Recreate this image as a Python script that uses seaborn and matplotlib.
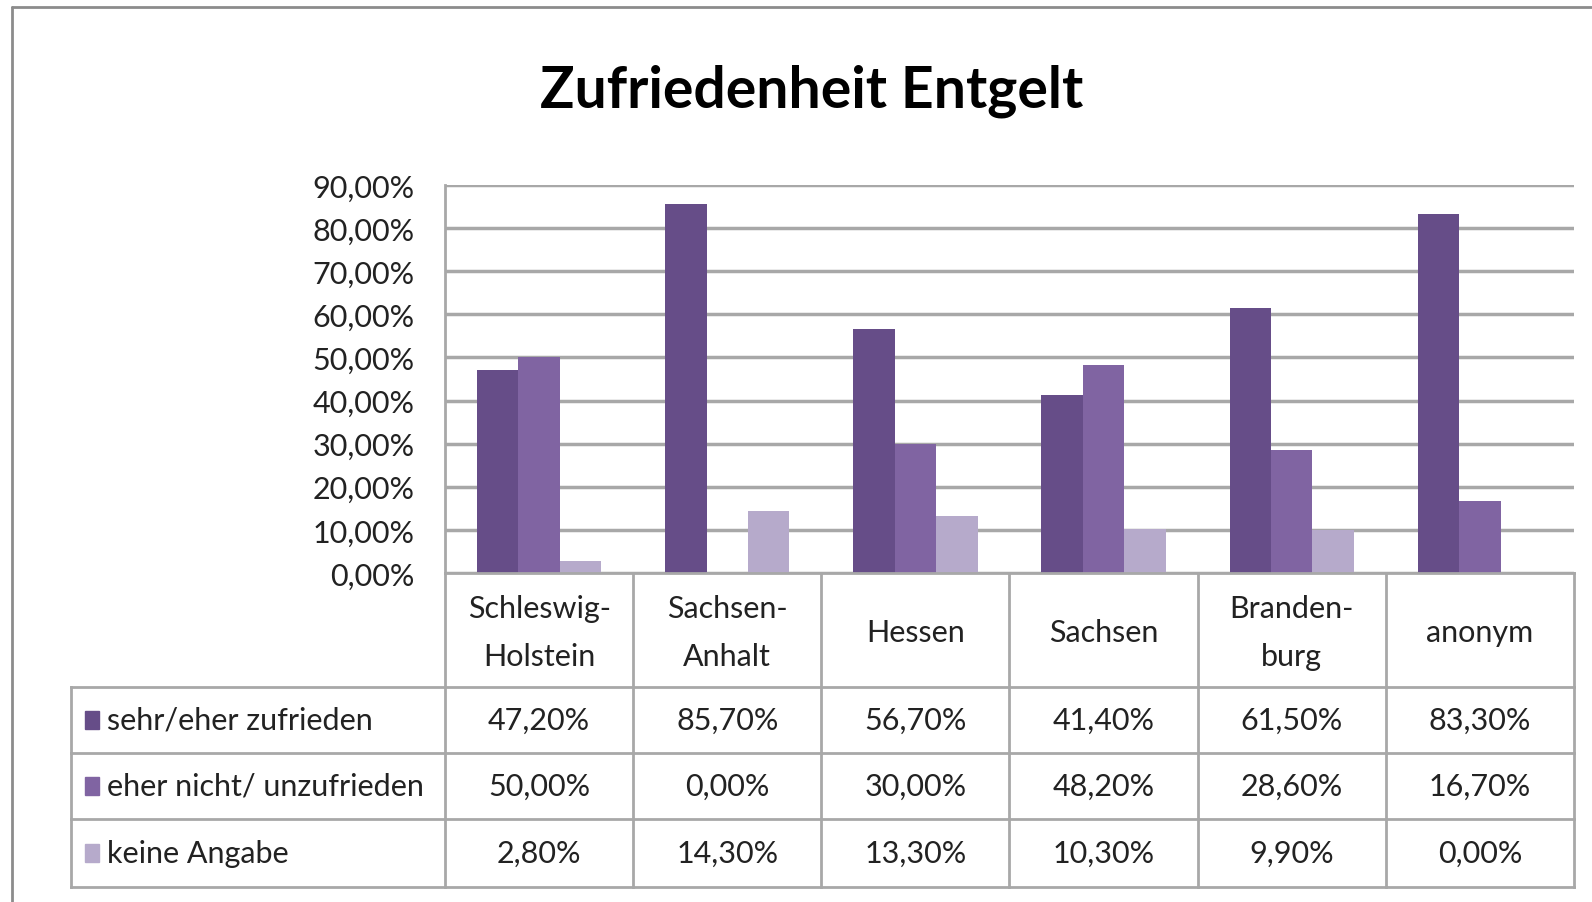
import pandas as pd
import matplotlib
matplotlib.use("Agg")
import matplotlib.pyplot as plt
import seaborn as sns
from matplotlib.lines import Line2D
from matplotlib.patches import Rectangle

# --- data ---
regions = ["Schleswig-\nHolstein", "Sachsen-\nAnhalt", "Hessen", "Sachsen", "Branden-\nburg", "anonym"]
series = ["sehr/eher zufrieden", "eher nicht/ unzufrieden", "keine Angabe"]
zufrieden = [0.472, 0.857, 0.567, 0.414, 0.615, 0.833]
unzufrieden = [0.500, 0.000, 0.300, 0.482, 0.286, 0.167]
keine_angabe = [0.028, 0.143, 0.133, 0.103, 0.099, 0.000]
y_ticks = [0.0, 0.1, 0.2, 0.3, 0.4, 0.5, 0.6, 0.7, 0.8, 0.9]
colors = ["#664D88", "#8064A2", "#B6AACB"]

values = [zufrieden, unzufrieden, keine_angabe]
df = pd.DataFrame({
    "region": regions * 3,
    "series": [s for s in series for _ in regions],
    "value": [v for vals in values for v in vals],
})

# --- fonts (Calibri look-alike) ---
sns.set_theme(style="white")
plt.rcParams["font.family"] = ["Lato", "DejaVu Sans"]
TXT = "#222222"
GRID = "#A8A8A8"
fs = 22

def fmt(v):
    return f"{v * 100:.2f}%".replace(".", ",")

W, H = 1592, 903
fig = plt.figure(figsize=(W / 100, H / 100), dpi=100)

# pixel layout
x0, x1 = 445, 1574
y_top, y_zero = 186, 574
row_lines = [574, 688, 754, 820, 888]
leg_left = 71

ax = fig.add_axes([x0 / W, 1 - y_zero / H, (x1 - x0) / W, (y_zero - y_top) / H])
sns.barplot(data=df, x="region", y="value", hue="series", palette=colors,
            width=0.66, saturation=1, ax=ax, legend=False, edgecolor="none")
ax.set_ylim(0, 0.9)
ax.set_xlim(-0.5, len(regions) - 0.5)
ax.set_yticks(y_ticks)
ax.set_yticklabels([fmt(t) for t in y_ticks], fontsize=fs, color=TXT)
ax.tick_params(axis="y", length=0, pad=22)
ax.set_xticks([])
ax.set_xlabel("")
ax.set_ylabel("")
ax.grid(axis="y", color=GRID, linewidth=2.5, zorder=0)
ax.set_axisbelow(True)
for s in ["top", "right", "bottom"]:
    ax.spines[s].set_visible(False)
ax.spines["left"].set_color(GRID)
ax.spines["left"].set_linewidth(2)

# --- data table below the bars ---
tax = fig.add_axes([x0 / W, 1 - row_lines[-1] / H, (x1 - x0) / W, (row_lines[-1] - row_lines[0]) / H])
tax.set_xlim(-0.5, len(regions) - 0.5)
tax.set_ylim(row_lines[-1], row_lines[0])
tax.axis("off")
px_per_cat = (x1 - x0) / len(regions)
left_edge = -0.5 - (x0 - leg_left) / px_per_cat

lk = dict(color=GRID, linewidth=2, clip_on=False, solid_capstyle="projecting")
for i, yl in enumerate(row_lines):
    xs = -0.5 if i == 0 else left_edge
    tax.add_line(Line2D([xs, len(regions) - 0.5], [yl, yl], **lk))
for b in range(len(regions) + 1):
    tax.add_line(Line2D([b - 0.5, b - 0.5], [row_lines[0], row_lines[-1]], **lk))
tax.add_line(Line2D([left_edge, left_edge], [row_lines[1], row_lines[-1]], **lk))

hdr_mid = (row_lines[0] + row_lines[1]) / 2
for i, r in enumerate(regions):
    tax.text(i, hdr_mid + 2, r, ha="center", va="center", fontsize=fs, color=TXT,
             linespacing=1.85)

sq_w = 14 / px_per_cat
for j, (name, vals) in enumerate(zip(series, values)):
    ym = (row_lines[j + 1] + row_lines[j + 2]) / 2
    tax.add_patch(Rectangle((left_edge + 14 / px_per_cat, ym - 9), sq_w, 18,
                            color=colors[j], clip_on=False))
    tax.text(left_edge + 36 / px_per_cat, ym, name, ha="left", va="center",
             fontsize=fs, color=TXT)
    for i, v in enumerate(vals):
        tax.text(i, ym, fmt(v), ha="center", va="center", fontsize=fs, color=TXT)

# title
fig.text(812 / W, 1 - 91 / H, "Zufriedenheit Entgelt", ha="center", va="center",
         fontsize=41, fontweight="bold", color="black")

# outer chart frame
fig.add_artist(Line2D([12 / W, 12 / W], [0, 1 - 8 / H], color="#8C8C8C", linewidth=2))
fig.add_artist(Line2D([12 / W, 1], [1 - 8 / H, 1 - 8 / H], color="#8C8C8C", linewidth=2))

fig.savefig("out.png", dpi=100)
